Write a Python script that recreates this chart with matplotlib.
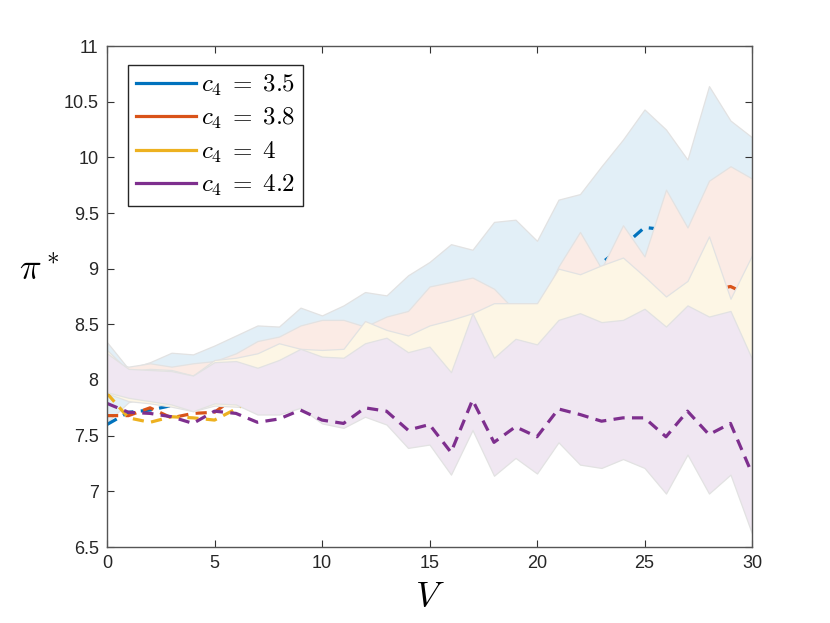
import matplotlib
matplotlib.use("Agg")
import matplotlib.pyplot as plt
from matplotlib.lines import Line2D
from matplotlib.ticker import FormatStrFormatter
import numpy as np

plt.rcParams['font.family'] = ['Liberation Sans', 'DejaVu Sans']
plt.rcParams['mathtext.fontset'] = 'cm'

V = list(range(0, 31))

# c4 = 3.5
blue_up = [8.34, 8.10, 8.16, 8.245, 8.23, 8.31, 8.40, 8.49, 8.48, 8.65, 8.58, 8.67, 8.79, 8.76, 8.94, 9.06,
           9.22, 9.17, 9.42, 9.44, 9.25, 9.62, 9.67, 9.92, 10.16, 10.43, 10.25, 9.98, 10.64, 10.33, 10.18]
blue_mean = [7.60, 7.71, 7.73, 7.77, 7.82, 7.87, 7.93, 8.00, 8.05, 8.12, 8.15, 8.20, 8.25, 8.30, 8.40, 8.50,
             8.55, 8.60, 8.62, 8.62, 8.60, 8.85, 8.95, 9.05, 9.20, 9.37, 9.35, 9.20, 9.30, 9.35, 9.38]
blue_lo = [7.62, 7.80, 7.85, 7.85, 7.85, 7.90, 7.90, 7.90, 7.95, 8.00, 8.00, 8.00, 8.05, 8.10, 8.10, 8.15,
           8.20, 8.20, 8.25, 8.30, 8.30, 8.40, 8.45, 8.50, 8.55, 8.60, 8.60, 8.60, 8.70, 8.70, 8.70]

# c4 = 3.8
red_up = [8.16, 8.12, 8.15, 8.12, 8.15, 8.17, 8.24, 8.35, 8.39, 8.49, 8.54, 8.54, 8.48, 8.57, 8.62, 8.84,
          8.88, 8.92, 8.82, 8.62, 8.60, 9.02, 9.33, 9.00, 9.39, 9.11, 9.71, 9.37, 9.79, 9.92, 9.81]
red_mean = [7.68, 7.68, 7.75, 7.66, 7.70, 7.71, 7.85, 7.90, 7.95, 8.00, 8.05, 8.10, 8.12, 8.15, 8.20, 8.25,
            8.30, 8.35, 8.35, 8.40, 8.40, 8.50, 8.55, 8.60, 8.62, 8.62, 8.60, 8.65, 8.80, 8.84, 8.75]
red_lo = [7.90, 7.85, 7.85, 7.82, 7.80, 7.85, 7.85, 7.80, 7.80, 7.85, 7.80, 7.80, 7.80, 7.85, 7.80, 7.80,
          7.80, 7.90, 7.80, 7.85, 7.80, 7.90, 7.90, 7.90, 7.95, 7.90, 7.85, 7.95, 7.90, 7.90, 7.70]

# c4 = 4
yel_up = [8.27, 8.08, 8.10, 8.09, 8.04, 8.18, 8.20, 8.24, 8.33, 8.28, 8.27, 8.28, 8.53, 8.45, 8.40, 8.49,
          8.54, 8.60, 8.69, 8.69, 8.69, 9.00, 8.95, 9.03, 9.10, 8.93, 8.75, 8.89, 9.29, 8.73, 9.12]
yel_mean = [7.88, 7.66, 7.62, 7.67, 7.66, 7.64, 7.74, 7.85, 7.90, 7.95, 7.95, 8.00, 8.00, 8.05, 8.00, 8.00,
            7.80, 8.10, 7.90, 7.95, 7.95, 8.00, 8.00, 8.00, 8.05, 8.05, 8.00, 8.10, 8.00, 8.10, 8.00]
yel_lo = [7.88, 7.81, 7.79, 7.76, 7.72, 7.77, 7.76, 7.75, 7.75, 7.80, 7.70, 7.70, 7.75, 7.75, 7.60, 7.60,
          7.50, 7.70, 7.50, 7.60, 7.50, 7.60, 7.50, 7.50, 7.50, 7.50, 7.40, 7.50, 7.40, 7.40, 7.30]

# c4 = 4.2
pur_up = [8.24, 8.10, 8.09, 8.08, 8.04, 8.16, 8.17, 8.11, 8.18, 8.28, 8.21, 8.20, 8.33, 8.38, 8.25, 8.30,
          8.07, 8.60, 8.20, 8.37, 8.32, 8.54, 8.60, 8.52, 8.54, 8.64, 8.48, 8.67, 8.57, 8.62, 8.19]
pur_mean = [7.79, 7.71, 7.70, 7.67, 7.61, 7.72, 7.70, 7.62, 7.65, 7.73, 7.64, 7.61, 7.75, 7.72, 7.55, 7.60,
            7.35, 7.82, 7.44, 7.58, 7.49, 7.74, 7.69, 7.63, 7.66, 7.66, 7.49, 7.72, 7.51, 7.61, 7.16]
pur_lo = [7.89, 7.84, 7.81, 7.78, 7.72, 7.79, 7.78, 7.69, 7.69, 7.75, 7.61, 7.57, 7.67, 7.60, 7.39, 7.42,
          7.15, 7.55, 7.14, 7.30, 7.16, 7.44, 7.24, 7.21, 7.29, 7.21, 6.98, 7.33, 6.98, 7.15, 6.62]

labels = [r'$c_4\;=\;3.5$', r'$c_4\;=\;3.8$', r'$c_4\;=\;4$', r'$c_4\;=\;4.2$']
line_colors = ['#0072BD', '#D95319', '#EDB120', '#7E2F8E']


def pale(c, a=0.115):
    rgb = np.array(matplotlib.colors.to_rgb(c))
    return tuple(1 - a * (1 - rgb))


fig = plt.figure(figsize=(8.3, 6.23), dpi=100)
ax = fig.add_axes([107 / 830, 1 - 547 / 623, 645 / 830, 501 / 623])

series = [(blue_lo, blue_mean, blue_up), (red_lo, red_mean, red_up),
          (yel_lo, yel_mean, yel_up), (pur_lo, pur_mean, pur_up)]
# each band hides what was drawn before it, like the original figure
for i, ((lo, mean, up), col) in enumerate(zip(series, line_colors)):
    ax.fill_between(V, lo, up, facecolor=pale(col), edgecolor='#e2e2e2', linewidth=0.9, zorder=1 + 2 * i)
    ax.plot(V, mean, color=col, lw=2.3, linestyle=(0, (3.5, 2.3)), zorder=2 + 2 * i)

ax.set_xlim(0, 30)
ax.set_ylim(6.5, 11)
ax.set_xticks(np.arange(0, 31, 5))
ax.set_yticks(np.arange(6.5, 11.01, 0.5))
ax.yaxis.set_major_formatter(FormatStrFormatter('%g'))
ax.tick_params(direction='in', length=5, width=0.8, top=True, right=True,
               labelsize=13, labelcolor='#262626', color='#333333', pad=6)
for s in ax.spines.values():
    s.set_color('#555555')
    s.set_linewidth(1.0)
    s.set_zorder(20)

ax.set_xlabel(r'$V$', fontsize=26, va='center')
ax.xaxis.set_label_coords(0.5, -0.1)
ax.set_ylabel(r'$\pi^*$', fontsize=26, rotation=0, va='center', ha='center')
ax.yaxis.set_label_coords(-0.105, 0.555)

handles = [Line2D([0], [0], color=c, lw=2.3) for c in line_colors]
leg = ax.legend(handles, labels, loc='upper left', bbox_to_anchor=(0.033, 0.962), borderaxespad=0,
                fontsize=18, fancybox=False, framealpha=1, edgecolor='#262626',
                handlelength=2.4, handletextpad=0.2, labelspacing=0.33, borderpad=0.3)
leg.get_frame().set_linewidth(1.0)
leg.set_zorder(30)

fig.savefig('out.png', dpi=100)
